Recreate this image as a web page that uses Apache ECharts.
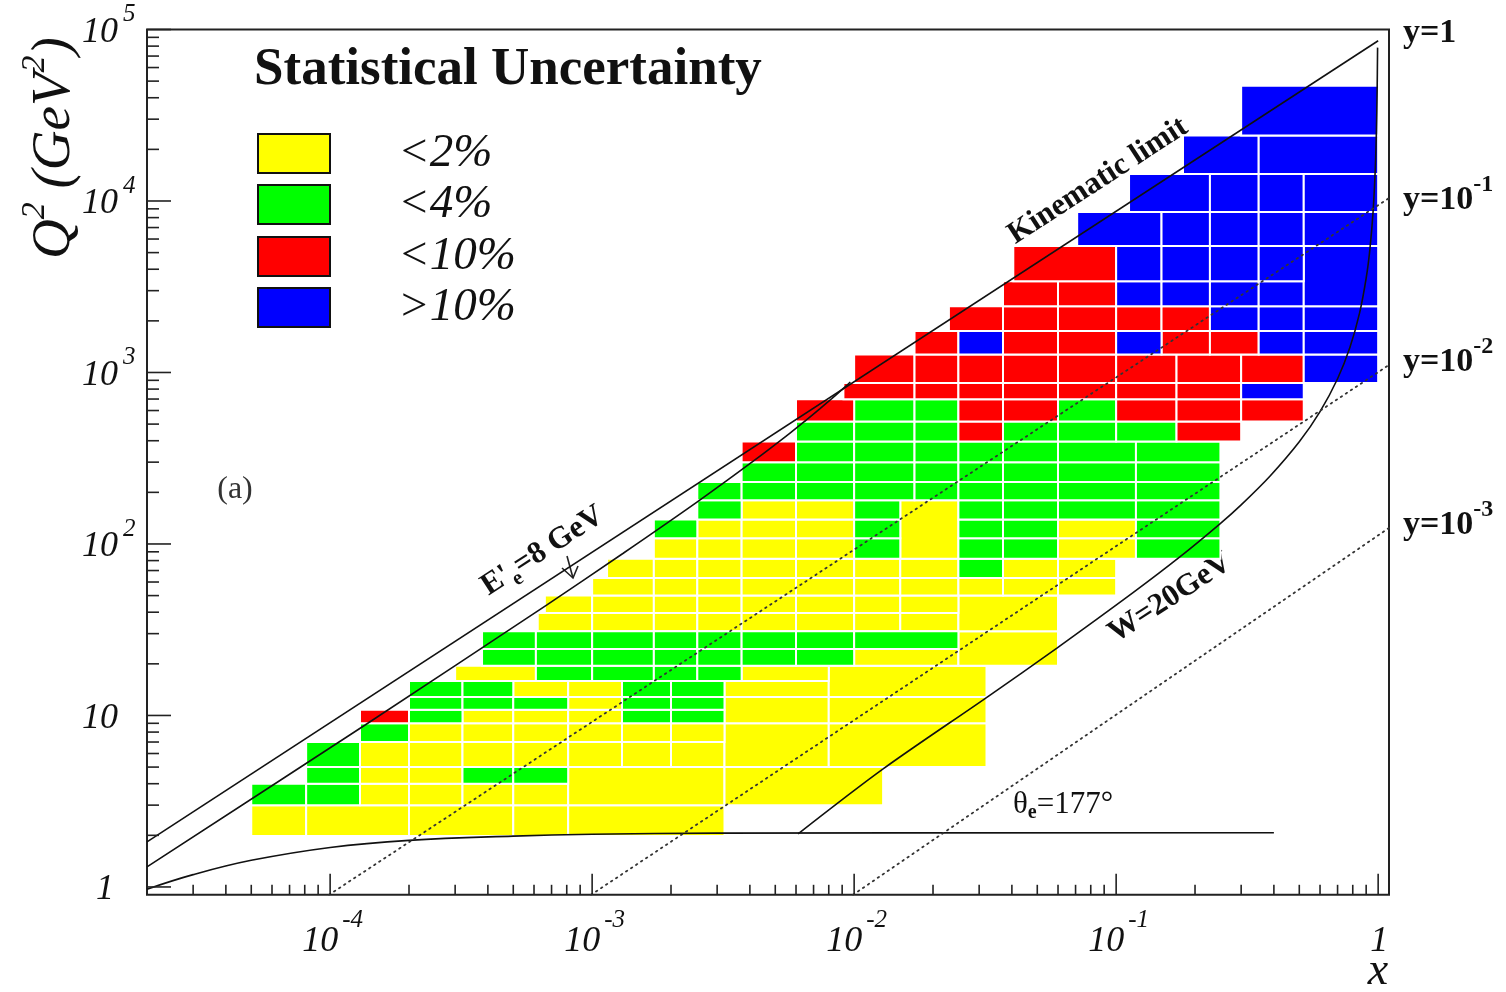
<!DOCTYPE html>
<html>
<head>
<meta charset="utf-8">
<title>Statistical Uncertainty</title>
<script src="https://cdn.jsdelivr.net/npm/echarts@6/dist/echarts.min.js"></script>
<style>
  html, body { margin: 0; padding: 0; background: #ffffff; }
  #chart { width: 1506px; height: 992px; }
</style>
</head>
<body>
<div id="chart"></div>
<script>
// ---------------- axis ranges (both axes logarithmic) ----------------
const X_RANGE = [2e-5, 1.1];
const Q2_RANGE = [0.9, 1e5];

// ---------------- measurement bins: [x low, x high, Q2 low, Q2 high] ----------------
// statistical uncertainty < 2 %
const binsBelow2 = [
  [5.0e-5, 8.1e-5, 1.98, 3.0], [8.1e-5, 2.0e-4, 1.98, 3.0], [2.0e-4, 5.0e-4, 1.98, 3.0], [5.0e-4, 8.1e-4, 1.98, 3.0], [8.1e-4, 3.2e-3, 1.98, 3.0],
  [1.3e-4, 2.0e-4, 3.0, 4.0], [2.0e-4, 3.2e-4, 3.0, 4.0], [3.2e-4, 5.0e-4, 3.0, 4.0], [5.0e-4, 8.1e-4, 3.0, 4.0],
  [8.1e-4, 3.2e-3, 3.0, 5.0], [3.2e-3, 1.29e-2, 3.0, 5.0],
  [1.3e-4, 2.0e-4, 4.0, 5.0], [2.0e-4, 3.2e-4, 4.0, 5.0],
  [1.3e-4, 2.0e-4, 5.0, 7.0], [2.0e-4, 3.2e-4, 5.0, 7.0], [3.2e-4, 5.0e-4, 5.0, 7.0], [5.0e-4, 8.1e-4, 5.0, 7.0],
  [8.1e-4, 1.3e-3, 5.0, 7.0], [1.3e-3, 2.0e-3, 5.0, 7.0], [2.0e-3, 3.2e-3, 5.0, 7.0],
  [3.2e-3, 8.0e-3, 5.0, 9.0], [8.0e-3, 3.2e-2, 5.0, 9.0],
  [2.0e-4, 3.2e-4, 7.0, 9.0], [3.2e-4, 5.0e-4, 7.0, 9.0], [5.0e-4, 8.1e-4, 7.0, 9.0], [8.1e-4, 1.3e-3, 7.0, 9.0],
  [1.3e-3, 2.0e-3, 7.0, 9.0], [2.0e-3, 3.2e-3, 7.0, 9.0],
  [3.2e-4, 5.0e-4, 9.0, 10.8], [5.0e-4, 8.1e-4, 9.0, 10.8], [8.1e-4, 1.3e-3, 9.0, 10.8],
  [3.2e-3, 8.0e-3, 9.0, 12.8], [8.0e-3, 3.2e-2, 9.0, 12.8],
  [8.1e-4, 1.3e-3, 10.8, 12.8],
  [5.0e-4, 8.1e-4, 12.8, 15.9], [8.1e-4, 1.3e-3, 12.8, 15.9], [3.2e-3, 8.0e-3, 12.8, 15.9],
  [8.0e-3, 3.2e-2, 12.8, 19.5],
  [3.0e-4, 6.1e-4, 15.9, 19.5], [3.72e-3, 8.0e-3, 15.9, 19.5],
  [1.0e-2, 2.5e-2, 19.5, 24.4],
  [2.5e-2, 6.0e-2, 19.5, 31],
  [6.2e-4, 1.0e-3, 31, 39.6], [1.0e-3, 1.72e-3, 31, 39.6], [1.72e-3, 2.52e-3, 31, 39.6], [2.52e-3, 3.72e-3, 31, 39.6],
  [3.72e-3, 6.0e-3, 31, 39.6], [6.0e-3, 1.0e-2, 31, 39.6], [1.0e-2, 1.5e-2, 31, 39.6], [1.5e-2, 2.5e-2, 31, 39.6],
  [2.5e-2, 6.0e-2, 31, 50],
  [6.6e-4, 1.0e-3, 39.6, 50], [1.0e-3, 1.72e-3, 39.6, 50], [1.72e-3, 2.52e-3, 39.6, 50], [2.52e-3, 3.72e-3, 39.6, 50],
  [3.72e-3, 6.0e-3, 39.6, 50], [6.0e-3, 1.0e-2, 39.6, 50], [1.0e-2, 1.5e-2, 39.6, 50], [1.5e-2, 2.5e-2, 39.6, 50],
  [1.0e-3, 1.72e-3, 50, 63.4], [1.72e-3, 2.52e-3, 50, 63.4], [2.52e-3, 3.72e-3, 50, 63.4], [3.72e-3, 6.0e-3, 50, 63.4],
  [6.0e-3, 1.0e-2, 50, 63.4], [1.0e-2, 1.5e-2, 50, 63.4], [1.5e-2, 2.5e-2, 50, 63.4], [2.5e-2, 3.7e-2, 50, 63.4],
  [3.7e-2, 6.0e-2, 50, 63.4], [6.0e-2, 0.10, 50, 63.4],
  [1.14e-3, 1.72e-3, 63.4, 82], [1.72e-3, 2.52e-3, 63.4, 82], [2.52e-3, 3.72e-3, 63.4, 82], [3.72e-3, 6.0e-3, 63.4, 82],
  [6.0e-3, 1.0e-2, 63.4, 82], [1.0e-2, 1.5e-2, 63.4, 82], [1.5e-2, 2.5e-2, 63.4, 82], [3.7e-2, 6.0e-2, 63.4, 82],
  [6.0e-2, 0.10, 63.4, 82],
  [1.72e-3, 2.52e-3, 82, 108], [2.52e-3, 3.72e-3, 82, 108], [3.72e-3, 6.0e-3, 82, 108], [6.0e-3, 1.0e-2, 82, 108],
  [6.0e-2, 0.119, 82, 108],
  [1.5e-2, 2.5e-2, 82, 180],
  [2.52e-3, 3.72e-3, 108, 139], [3.72e-3, 6.0e-3, 108, 139], [6.0e-3, 1.0e-2, 108, 139], [6.0e-2, 0.119, 108, 139],
  [3.72e-3, 6.0e-3, 139, 180], [6.0e-3, 1.0e-2, 139, 180]
];

// statistical uncertainty < 4 %
const binsBelow4 = [
  [5.0e-5, 8.1e-5, 3.0, 4.0], [8.1e-5, 1.3e-4, 3.0, 4.0],
  [8.1e-5, 1.3e-4, 4.0, 5.0], [3.2e-4, 5.0e-4, 4.0, 5.0], [5.0e-4, 8.1e-4, 4.0, 5.0],
  [8.1e-5, 1.3e-4, 5.0, 7.0],
  [1.3e-4, 2.0e-4, 7.0, 9.0],
  [2.0e-4, 3.2e-4, 9.0, 10.8], [1.3e-3, 2.0e-3, 9.0, 10.8], [2.0e-3, 3.2e-3, 9.0, 10.8],
  [2.0e-4, 3.2e-4, 10.8, 12.8], [3.2e-4, 5.0e-4, 10.8, 12.8], [5.0e-4, 8.1e-4, 10.8, 12.8],
  [1.3e-3, 2.0e-3, 10.8, 12.8], [2.0e-3, 3.2e-3, 10.8, 12.8],
  [2.0e-4, 3.2e-4, 12.8, 15.9], [3.2e-4, 5.0e-4, 12.8, 15.9], [1.3e-3, 2.0e-3, 12.8, 15.9], [2.0e-3, 3.2e-3, 12.8, 15.9],
  [6.1e-4, 1.0e-3, 15.9, 19.5], [1.0e-3, 1.72e-3, 15.9, 19.5], [1.72e-3, 2.52e-3, 15.9, 19.5], [2.52e-3, 3.72e-3, 15.9, 19.5],
  [3.8e-4, 6.1e-4, 19.5, 24.4], [6.1e-4, 1.0e-3, 19.5, 24.4], [1.0e-3, 1.72e-3, 19.5, 24.4], [1.72e-3, 2.52e-3, 19.5, 24.4],
  [2.52e-3, 3.72e-3, 19.5, 24.4], [3.72e-3, 6.0e-3, 19.5, 24.4], [6.0e-3, 1.0e-2, 19.5, 24.4],
  [3.8e-4, 6.1e-4, 24.4, 31], [6.1e-4, 1.0e-3, 24.4, 31], [1.0e-3, 1.72e-3, 24.4, 31], [1.72e-3, 2.52e-3, 24.4, 31],
  [2.52e-3, 3.72e-3, 24.4, 31], [3.72e-3, 6.0e-3, 24.4, 31], [6.0e-3, 1.0e-2, 24.4, 31], [1.0e-2, 2.5e-2, 24.4, 31],
  [2.5e-2, 3.7e-2, 63.4, 82],
  [1.0e-2, 1.5e-2, 82, 108], [2.5e-2, 3.7e-2, 82, 108], [3.7e-2, 6.0e-2, 82, 108], [0.119, 0.25, 82, 108],
  [1.72e-3, 2.52e-3, 108, 139], [1.0e-2, 1.5e-2, 108, 139], [2.5e-2, 3.7e-2, 108, 139], [3.7e-2, 6.0e-2, 108, 139],
  [0.119, 0.25, 108, 139],
  [2.52e-3, 3.72e-3, 139, 180], [1.0e-2, 1.5e-2, 139, 180], [2.5e-2, 3.7e-2, 139, 180], [3.7e-2, 6.0e-2, 139, 180],
  [6.0e-2, 0.119, 139, 180], [0.119, 0.25, 139, 180],
  [2.52e-3, 3.72e-3, 180, 230], [3.72e-3, 6.0e-3, 180, 230], [6.0e-3, 1.0e-2, 180, 230], [1.0e-2, 1.7e-2, 180, 230],
  [1.7e-2, 2.5e-2, 180, 230], [2.5e-2, 3.7e-2, 180, 230], [3.7e-2, 6.0e-2, 180, 230], [6.0e-2, 0.119, 180, 230],
  [0.119, 0.25, 180, 230],
  [3.72e-3, 6.0e-3, 230, 300], [6.0e-3, 1.0e-2, 230, 300], [1.0e-2, 1.7e-2, 230, 300], [1.7e-2, 2.5e-2, 230, 300],
  [2.5e-2, 3.7e-2, 230, 300], [3.7e-2, 6.0e-2, 230, 300], [6.0e-2, 0.119, 230, 300], [0.119, 0.25, 230, 300],
  [6.0e-3, 1.0e-2, 300, 396], [1.0e-2, 1.7e-2, 300, 396], [1.7e-2, 2.5e-2, 300, 396], [2.5e-2, 3.7e-2, 300, 396],
  [3.7e-2, 6.0e-2, 300, 396], [6.0e-2, 0.119, 300, 396], [0.119, 0.25, 300, 396],
  [6.0e-3, 1.0e-2, 396, 518], [1.0e-2, 1.7e-2, 396, 518], [1.7e-2, 2.5e-2, 396, 518], [3.7e-2, 6.0e-2, 396, 518],
  [6.0e-2, 0.10, 396, 518], [0.10, 0.17, 396, 518],
  [1.0e-2, 1.7e-2, 518, 697], [1.7e-2, 2.5e-2, 518, 697], [6.0e-2, 0.10, 518, 697]
];

// statistical uncertainty < 10 %
const binsBelow10 = [
  [1.3e-4, 2.0e-4, 9.0, 10.8],
  [3.72e-3, 6.0e-3, 300, 396],
  [2.5e-2, 3.7e-2, 396, 518], [0.17, 0.30, 396, 518],
  [6.0e-3, 1.0e-2, 518, 697], [2.5e-2, 3.7e-2, 518, 697], [3.7e-2, 6.0e-2, 518, 697], [0.10, 0.17, 518, 697],
  [0.17, 0.30, 518, 697], [0.30, 0.52, 518, 697],
  [9.1e-3, 1.7e-2, 697, 868], [1.7e-2, 2.5e-2, 697, 868], [2.5e-2, 3.7e-2, 697, 868], [3.7e-2, 6.0e-2, 697, 868],
  [6.0e-2, 0.10, 697, 868], [0.10, 0.17, 697, 868], [0.17, 0.30, 697, 868],
  [1.0e-2, 1.7e-2, 868, 1274], [1.7e-2, 2.5e-2, 868, 1274], [2.5e-2, 3.7e-2, 868, 1274], [3.7e-2, 6.0e-2, 868, 1274],
  [6.0e-2, 0.10, 868, 1274], [0.10, 0.17, 868, 1274], [0.17, 0.30, 868, 1274], [0.30, 0.52, 868, 1274],
  [1.7e-2, 2.5e-2, 1274, 1745], [3.7e-2, 6.0e-2, 1274, 1745], [6.0e-2, 0.10, 1274, 1745], [0.149, 0.228, 1274, 1745],
  [0.228, 0.35, 1274, 1745],
  [2.3e-2, 3.7e-2, 1745, 2430], [3.7e-2, 6.0e-2, 1745, 2430], [6.0e-2, 0.10, 1745, 2430], [0.10, 0.149, 1745, 2430],
  [0.149, 0.228, 1745, 2430],
  [3.7e-2, 6.0e-2, 2430, 3400], [6.0e-2, 0.10, 2430, 3400],
  [4.05e-2, 0.10, 3400, 5470]
];

// statistical uncertainty > 10 %
const binsAbove10 = [
  [0.30, 0.52, 697, 868],
  [0.52, 1.0, 868, 1274],
  [2.5e-2, 3.7e-2, 1274, 1745], [0.10, 0.149, 1274, 1745], [0.35, 0.52, 1274, 1745], [0.52, 1.0, 1274, 1745],
  [0.228, 0.35, 1745, 2430], [0.35, 0.52, 1745, 2430], [0.52, 1.0, 1745, 2430],
  [0.10, 0.149, 2430, 3400], [0.149, 0.228, 2430, 3400], [0.228, 0.35, 2430, 3400], [0.35, 0.52, 2430, 3400],
  [0.52, 1.0, 2430, 5470],
  [0.10, 0.149, 3400, 5470], [0.149, 0.228, 3400, 5470], [0.228, 0.35, 3400, 5470], [0.35, 0.52, 3400, 5470],
  [7.1e-2, 0.149, 5470, 8630], [0.149, 0.228, 5470, 8630], [0.228, 0.35, 5470, 8630], [0.35, 0.52, 5470, 8630],
  [0.52, 1.0, 5470, 8630],
  [0.112, 0.228, 8630, 14360], [0.228, 0.35, 8630, 14360], [0.35, 0.52, 8630, 14360], [0.52, 1.0, 8630, 14360],
  [0.18, 0.35, 14360, 24100], [0.35, 1.0, 14360, 24100],
  [0.30, 1.0, 24100, 47000]
];

// ---------------- kinematic boundaries: [x, Q2] ----------------
const lineY1 = [[2e-5, 1.83], [1.0, 8.6e4]];
const lineEe8 = [[2.0e-5, 1.31], [1.36e-4, 8.8], [6.7e-4, 44], [1.31e-3, 88], [2.52e-3, 176], [4.17e-3, 308],
                 [5.66e-3, 440], [6.56e-3, 528], [7.41e-3, 616], [8.21e-3, 704], [8.96e-3, 792], [9.33e-3, 836], [9.67e-3, 880]];
const lineTheta177 = [[2e-5, 0.97], [3e-5, 1.18], [5e-5, 1.43], [1e-4, 1.7], [2e-4, 1.87], [5e-4, 1.98],
                      [1e-3, 2.03], [3e-3, 2.06], [0.4, 2.07]];
const lineW20 = [[6.11e-3, 2.04], [1.29e-2, 4.88], [3.22e-2, 12.8], [5.96e-2, 24.8], [0.116, 52], [0.175, 84],
                 [0.249, 131], [0.30, 169], [0.387, 249], [0.50, 394], [0.60, 591], [0.70, 919], [0.78, 1397],
                 [0.85, 2233], [0.90, 3546], [0.93, 5234], [0.957, 8769], [0.975, 15400], [0.985, 25900],
                 [0.991, 43400], [0.995, 78400]];
const lineY01 = [[9.9e-5, 0.9], [1.1, 1.04e4]];
const lineY001 = [[9.9e-4, 0.9], [1.1, 1106]];
const lineY0001 = [[9.9e-3, 0.9], [1.1, 124]];

// ---------------- axis ticks ----------------
const xMajorTicks = [1e-4, 1e-3, 1e-2, 1e-1, 1];
const xTickLabels = [['10', '-4'], ['10', '-3'], ['10', '-2'], ['10', '-1'], ['1', '']];
const q2MajorTicks = [1, 10, 100, 1000, 1e4, 1e5];
const q2TickLabels = [['1', ''], ['10', ''], ['10', '2'], ['10', '3'], ['10', '4'], ['10', '5']];

// minor ticks at 2..9 times each power of ten inside the axis range
function minorTicks(range) {
  const out = [];
  for (let e = Math.floor(Math.log10(range[0])); e <= Math.ceil(Math.log10(range[1])); e++) {
    for (let m = 2; m <= 9; m++) {
      const v = m * Math.pow(10, e);
      if (v > range[0] * 1.0001 && v < range[1]) out.push(v);
    }
  }
  return out;
}
const xMinorTicks = minorTicks(X_RANGE);
const q2MinorTicks = minorTicks(Q2_RANGE);

// ---------------- styling ----------------
const SERIF = '"Liberation Serif", "Times New Roman", serif';
const INK = '#111';
const CLASS_COLORS = { below2: '#ffff00', below4: '#00ff00', below10: '#ff0000', above10: '#0000ff' };

function binSeries(name, data, color) {
  return {
    type: 'custom', name, data, clip: true, z: 2, silent: true,
    encode: { x: [0, 1], y: [2, 3] },
    renderItem(params, api) {
      const p0 = api.coord([api.value(0), api.value(3)]);
      const p1 = api.coord([api.value(1), api.value(2)]);
      return {
        type: 'rect',
        shape: { x: p0[0], y: p0[1], width: p1[0] - p0[0], height: p1[1] - p0[1] },
        style: { fill: color, stroke: '#ffffff', lineWidth: 2 }
      };
    }
  };
}

function curve(data, dotted, smooth) {
  return {
    type: 'line', data, symbol: 'none', showSymbol: false, clip: true, z: 5, silent: true,
    smooth: smooth || false,
    lineStyle: dotted
      ? { color: '#333', width: 1.8, type: [1.5, 4.5], cap: 'round' }
      : { color: '#111', width: 1.6 }
  };
}

function tickSeries(values, axis, major) {
  return {
    type: 'custom', z: 6, silent: true, clip: false,
    data: values.map(v => axis === 'x' ? [v, Q2_RANGE[0]] : [X_RANGE[0], v]),
    encode: { x: 0, y: 1 },
    renderItem(params, api) {
      const p = api.coord([api.value(0), api.value(1)]);
      const len = axis === 'x' ? (major ? 21 : 10) : (major ? 24 : 12);
      const shape = axis === 'x'
        ? { x1: p[0], y1: p[1], x2: p[0], y2: p[1] - len }
        : { x1: p[0], y1: p[1], x2: p[0] + len, y2: p[1] };
      return { type: 'line', shape, style: { stroke: '#222', lineWidth: 1.6 } };
    }
  };
}

function tickLabelSeries(values, labels, axis) {
  return {
    type: 'custom', z: 6, silent: true, clip: false,
    data: values.map(v => axis === 'x' ? [v, Q2_RANGE[0]] : [X_RANGE[0], v]),
    encode: { x: 0, y: 1 },
    renderItem(params, api) {
      const p = api.coord([api.value(0), api.value(1)]);
      const [base, sup] = labels[params.dataIndex];
      const children = [];
      if (axis === 'x') {
        children.push({ type: 'text', x: sup ? p[0] + 8 : p[0] + 1, y: p[1] + 47,
          style: { text: base, font: 'italic 36px ' + SERIF, fill: INK, align: sup ? 'right' : 'center', verticalAlign: 'middle' } });
        if (sup) children.push({ type: 'text', x: p[0] + 12, y: p[1] + 26,
          style: { text: sup, font: 'italic 25px ' + SERIF, fill: INK, align: 'left', verticalAlign: 'middle' } });
      } else {
        children.push({ type: 'text', x: base === '1' ? p[0] - 33 : p[0] - 29, y: p[1] + 3,
          style: { text: base, font: 'italic 36px ' + SERIF, fill: INK, align: 'right', verticalAlign: 'middle' } });
        if (sup) children.push({ type: 'text', x: p[0] - 24, y: p[1] - 15,
          style: { text: sup, font: 'italic 25px ' + SERIF, fill: INK, align: 'left', verticalAlign: 'middle' } });
      }
      return { type: 'group', children };
    }
  };
}

// ---------------- annotations ----------------
const DEG = Math.PI / 180;
const legendEntries = [
  { label: '<2%', color: CLASS_COLORS.below2, y: 153 },
  { label: '<4%', color: CLASS_COLORS.below4, y: 204 },
  { label: '<10%', color: CLASS_COLORS.below10, y: 256 },
  { label: '>10%', color: CLASS_COLORS.above10, y: 307 }
];

const graphics = [
  { type: 'text', x: 254, y: 70, style: { text: 'Statistical Uncertainty', font: 'bold 53px ' + SERIF, fill: INK, verticalAlign: 'middle' } },
  { type: 'text', x: 235, y: 490, style: { text: '(a)', font: '32px ' + SERIF, fill: '#333', align: 'center', verticalAlign: 'middle' } },
  { type: 'text', x: 1378, y: 972, style: { text: 'x', font: 'italic 46px ' + SERIF, fill: INK, align: 'center', verticalAlign: 'middle' } },
  {
    type: 'text', x: 50, y: 148, rotation: Math.PI / 2,
    style: {
      text: '{q|Q}{s|2}{q| (GeV}{s|2}{q|)}', align: 'center', verticalAlign: 'middle', fill: INK,
      rich: {
        q: { fontFamily: SERIF, fontStyle: 'italic', fontSize: 55, lineHeight: 64, verticalAlign: 'bottom', fill: INK },
        s: { fontFamily: SERIF, fontStyle: 'italic', fontSize: 34, lineHeight: 36, verticalAlign: 'top', fill: INK }
      }
    }
  },
  { type: 'text', x: 1403, y: 33, style: { text: 'y=1', font: 'bold 34px ' + SERIF, fill: INK, verticalAlign: 'middle' } },
  {
    type: 'text', x: 1098, y: 181, rotation: 33 * DEG,
    style: { text: 'Kinematic limit', font: 'bold 31px ' + SERIF, fill: INK, align: 'center', verticalAlign: 'middle' }
  },
  {
    type: 'text', x: 1170, y: 598, rotation: 33 * DEG,
    style: { text: 'W=20GeV', font: 'bold 31px ' + SERIF, fill: INK, align: 'center', verticalAlign: 'middle' }
  },
  {
    type: 'text', x: 544, y: 553, rotation: 33 * DEG,
    style: {
      text: "{b|E'}{e|e}{b|=8 GeV}", align: 'center', verticalAlign: 'middle', fill: INK,
      rich: {
        b: { fontFamily: SERIF, fontWeight: 'bold', fontSize: 31, lineHeight: 36, verticalAlign: 'top', fill: INK },
        e: { fontFamily: SERIF, fontWeight: 'bold', fontSize: 21, lineHeight: 22, verticalAlign: 'bottom', fill: INK }
      }
    }
  },
  {
    type: 'text', x: 1013, y: 806,
    style: {
      text: '{b|\u03b8}{e|e}{b|=177\u00b0}', verticalAlign: 'middle', fill: INK,
      rich: {
        b: { fontFamily: SERIF, fontSize: 31, lineHeight: 34, verticalAlign: 'top', fill: INK },
        e: { fontFamily: SERIF, fontWeight: 'bold', fontSize: 20, lineHeight: 20, verticalAlign: 'bottom', fill: INK }
      }
    }
  },
  // arrow pointing at the E'e = 8 GeV line
  { type: 'polyline', shape: { points: [[567, 556], [573, 578]] }, style: { stroke: '#222', lineWidth: 1.6, fill: null } },
  { type: 'polyline', shape: { points: [[562, 568], [573, 578], [578, 566]] }, style: { stroke: '#222', lineWidth: 1.6, fill: null } }
];

[['-1', 195], ['-2', 357], ['-3', 520]].forEach(([exp, y]) => {
  graphics.push({
    type: 'text', x: 1403, y,
    style: {
      text: '{b|y=10}{s|' + exp + '}', verticalAlign: 'middle', fill: INK,
      rich: {
        b: { fontFamily: SERIF, fontWeight: 'bold', fontSize: 34, lineHeight: 44, verticalAlign: 'bottom', fill: INK },
        s: { fontFamily: SERIF, fontWeight: 'bold', fontSize: 24, lineHeight: 24, verticalAlign: 'top', fill: INK }
      }
    }
  });
});

legendEntries.forEach(e => {
  graphics.push({ type: 'rect', shape: { x: 258, y: e.y - 19, width: 72, height: 39 },
    style: { fill: e.color, stroke: '#111', lineWidth: 2 } });
  graphics.push({ type: 'text', x: 398, y: e.y + 1,
    style: { text: e.label, font: 'italic 47px ' + SERIF, fill: INK, verticalAlign: 'middle' } });
});

// ---------------- chart ----------------
const chart = echarts.init(document.getElementById('chart'), null, { renderer: 'canvas' });
chart.setOption({
  animation: false,
  backgroundColor: '#ffffff',
  grid: { left: 147, right: 117, top: 29.5, bottom: 97.2, show: true, borderColor: '#222', borderWidth: 2, backgroundColor: 'transparent' },
  xAxis: {
    type: 'log', logBase: 10, min: X_RANGE[0], max: X_RANGE[1],
    axisLine: { show: false }, axisTick: { show: false }, axisLabel: { show: false }, splitLine: { show: false }
  },
  yAxis: {
    type: 'log', logBase: 10, min: Q2_RANGE[0], max: Q2_RANGE[1],
    axisLine: { show: false }, axisTick: { show: false }, axisLabel: { show: false }, splitLine: { show: false }
  },
  series: [
    binSeries('<2%', binsBelow2, CLASS_COLORS.below2),
    binSeries('<4%', binsBelow4, CLASS_COLORS.below4),
    binSeries('<10%', binsBelow10, CLASS_COLORS.below10),
    binSeries('>10%', binsAbove10, CLASS_COLORS.above10),
    curve(lineY1, false),
    curve(lineEe8, false, 0.3),
    curve(lineTheta177, false, 0.4),
    curve(lineW20, false, 0.3),
    curve(lineY01, true),
    curve(lineY001, true),
    curve(lineY0001, true),
    tickSeries(xMajorTicks, 'x', true),
    tickSeries(xMinorTicks, 'x', false),
    tickSeries(q2MajorTicks, 'y', true),
    tickSeries(q2MinorTicks, 'y', false),
    tickLabelSeries(xMajorTicks, xTickLabels, 'x'),
    tickLabelSeries(q2MajorTicks, q2TickLabels, 'y')
  ],
  graphic: graphics
});
</script>
</body>
</html>
